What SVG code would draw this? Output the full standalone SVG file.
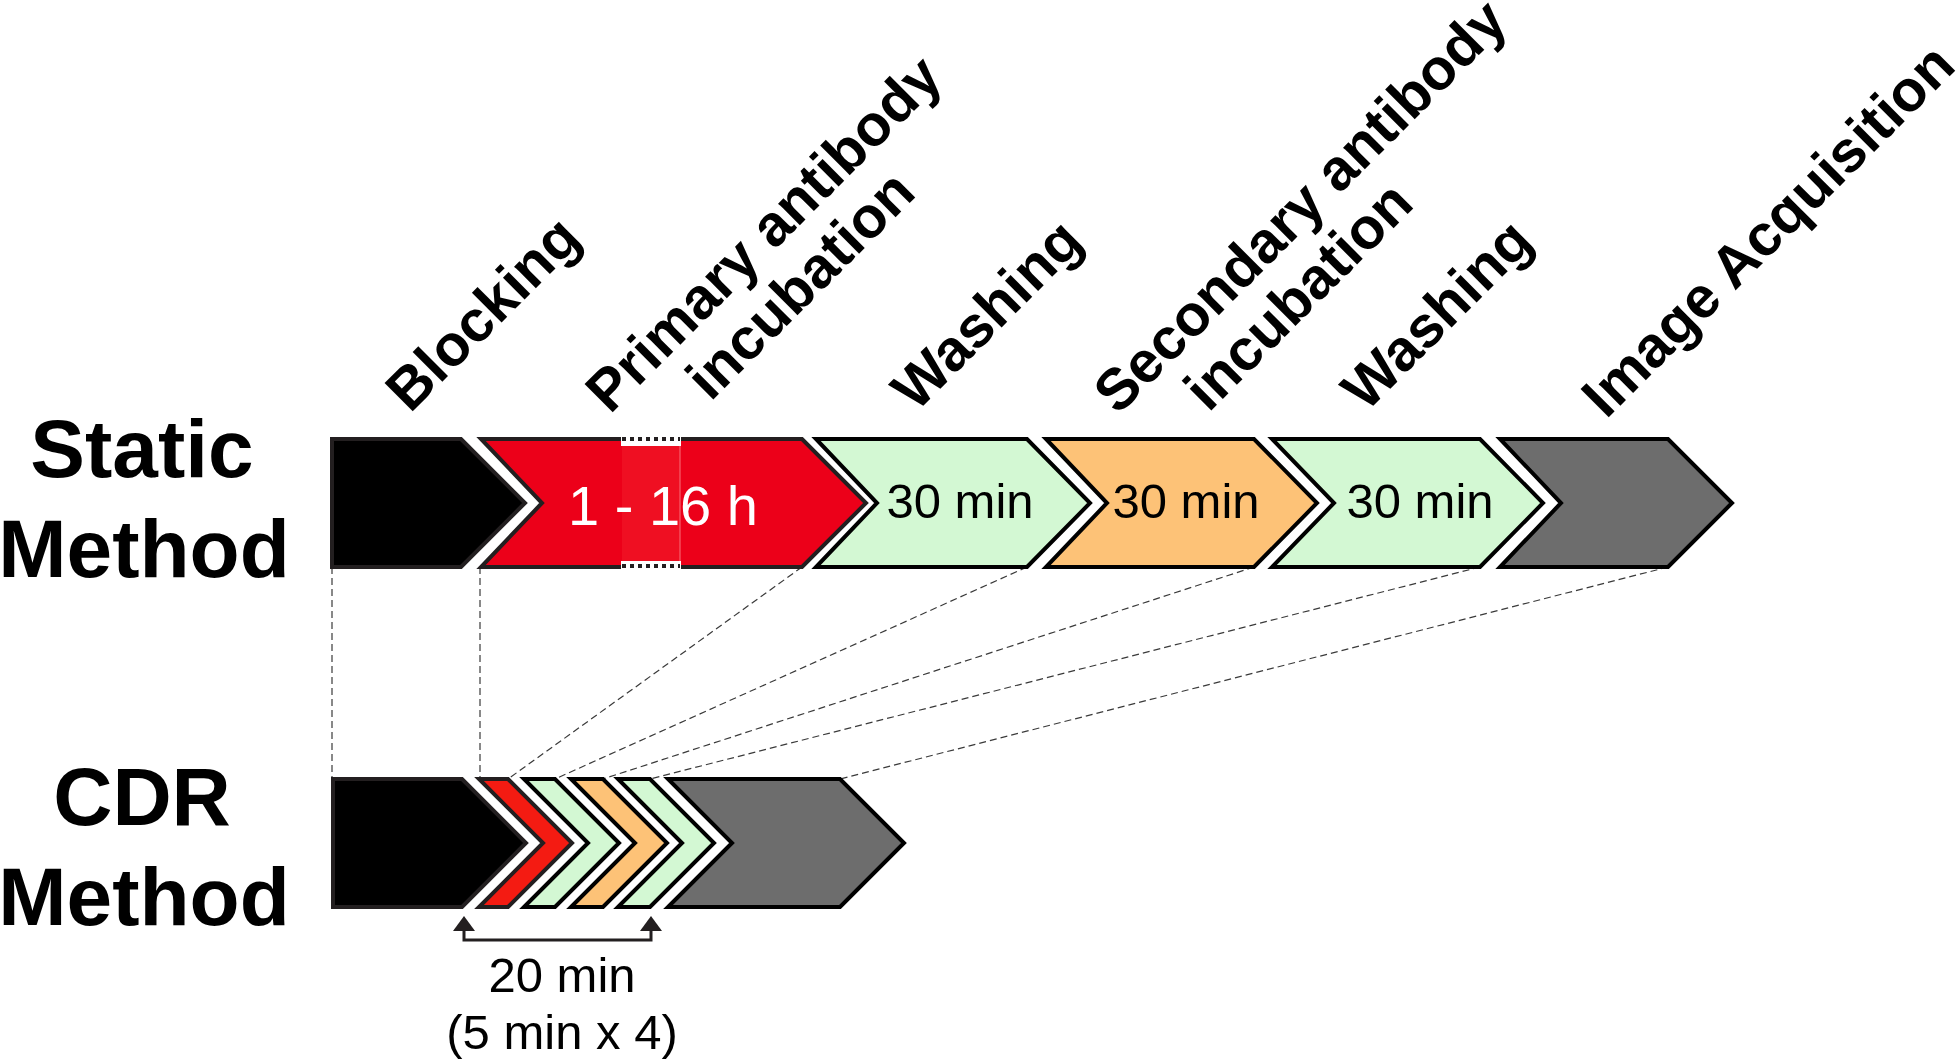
<svg xmlns="http://www.w3.org/2000/svg" width="1959" height="1061" viewBox="0 0 1959 1061">
<style>
.lbl{font-family:"Liberation Sans",Arial,sans-serif;font-weight:bold;font-size:58px;fill:#000}
.side{font-family:"Liberation Sans",Arial,sans-serif;font-weight:bold;font-size:82px;fill:#000;text-anchor:middle}
.dur{font-family:"Liberation Sans",Arial,sans-serif;font-size:49px;fill:#000;text-anchor:middle}
.blk{fill:#000;stroke:#231f20;stroke-width:4;stroke-linejoin:miter}
.red{fill:#ec0019;stroke:#231f20;stroke-width:4}
.red2{fill:#f41b12;stroke:#231f20;stroke-width:4}
.grn{fill:#d3f8d3;stroke:#000;stroke-width:4}
.org{fill:#fdc277;stroke:#000;stroke-width:4}
.gry{fill:#6d6d6d;stroke:#000;stroke-width:4}
.dash{stroke:#3a3a3a;stroke-width:1.2;stroke-dasharray:7 4;fill:none}
</style>
<rect width="1959" height="1061" fill="#fff"/>

<g id="labels-side">
<text class="side" x="142" y="477">Static</text>
<text class="side" x="144" y="577">Method</text>
<text class="side" x="142" y="825">CDR</text>
<text class="side" x="144" y="925">Method</text>
</g>

<g id="labels-steps">
<text id="lbl-blocking" class="lbl" transform="translate(410,414) rotate(-45)">Blocking</text>
<text id="lbl-primary" class="lbl" transform="translate(610,415) rotate(-45)"><tspan x="0" y="0">Primary antibody</tspan><tspan x="80" y="62">incubation</tspan></text>
<text id="lbl-wash1" class="lbl" transform="translate(916,413) rotate(-45)">Washing</text>
<text id="lbl-secondary" class="lbl" transform="translate(1118,416) rotate(-45)"><tspan x="0" y="0">Secondary antibody</tspan><tspan x="66" y="62">incubation</tspan></text>
<text id="lbl-wash2" class="lbl" transform="translate(1366,413) rotate(-45)">Washing</text>
<text id="lbl-image" class="lbl" transform="translate(1606,420) rotate(-45)">Image Acquisition</text>
</g>

<g id="connectors">
<line class="dash" x1="332" y1="567" x2="332" y2="779"/>
<line class="dash" x1="480" y1="567" x2="480" y2="779"/>
<line class="dash" x1="802" y1="567" x2="508" y2="779"/>
<line class="dash" x1="1027" y1="567" x2="555" y2="779"/>
<line class="dash" x1="1254" y1="567" x2="603" y2="779"/>
<line class="dash" x1="1480" y1="567" x2="650" y2="779"/>
<line class="dash" x1="1668" y1="567" x2="840" y2="779"/>
</g>

<g id="static-row">
<g id="s-blocking"><path class="blk" d="M332,439 L461,439 L525,503 L461,567 L332,567 Z"/></g>
<g id="s-primary">
<path class="red" d="M481,439 L802,439 L866,503 L802,567 L481,567 L542,503 Z"/>
<rect x="622" y="441" width="58" height="124" fill="#ef0f22"/>
<line x1="680" y1="441" x2="680" y2="565" stroke="#f7707a" stroke-width="1"/>
<rect x="621" y="436" width="60" height="10" fill="#fff"/>
<line x1="622" y1="439" x2="680" y2="439" stroke="#231f20" stroke-width="4" stroke-dasharray="4 4"/>
<rect x="621" y="561" width="60" height="10" fill="#fff"/>
<line x1="622" y1="566" x2="680" y2="566" stroke="#231f20" stroke-width="4" stroke-dasharray="4 4"/>
<text x="663" y="525" font-family="Liberation Sans, Arial, sans-serif" font-size="56" fill="#fff" text-anchor="middle">1 - 16 h</text>
</g>
<g id="s-wash1"><path class="grn" d="M816,439 L1027,439 L1090,503 L1027,567 L816,567 L877,503 Z"/><text class="dur" x="960" y="518">30 min</text></g>
<g id="s-secondary"><path class="org" d="M1046,439 L1254,439 L1317,503 L1254,567 L1046,567 L1107,503 Z"/><text class="dur" x="1186" y="518">30 min</text></g>
<g id="s-wash2"><path class="grn" d="M1272,439 L1480,439 L1543,503 L1480,567 L1272,567 L1334,503 Z"/><text class="dur" x="1420" y="518">30 min</text></g>
<g id="s-image"><path class="gry" d="M1500,439 L1668,439 L1732,503 L1668,567 L1500,567 L1561,503 Z"/></g>
</g>

<g id="cdr-row">
<g id="c-blocking"><path class="blk" d="M333,779 L462,779 L526,843 L462,907 L333,907 Z"/></g>
<g id="c-primary"><path class="red2" d="M479,779 L508,779 L572,843 L508,907 L479,907 L543,843 Z"/></g>
<g id="c-wash1"><path class="grn" d="M524,779 L555,779 L619,843 L555,907 L524,907 L588,843 Z"/></g>
<g id="c-secondary"><path class="org" d="M571,779 L603,779 L667,843 L603,907 L571,907 L635,843 Z"/></g>
<g id="c-wash2"><path class="grn" d="M618,779 L650,779 L714,843 L650,907 L618,907 L682,843 Z"/></g>
<g id="c-image"><path class="gry" d="M668,779 L840,779 L904,843 L840,907 L668,907 L732,843 Z"/></g>
</g>

<g id="bracket">
<path d="M464,928 L464,940 L651,940 L651,928" fill="none" stroke="#231f20" stroke-width="3"/>
<polygon points="464,916 453,931 475,931" fill="#231f20"/>
<polygon points="651,916 640,931 662,931" fill="#231f20"/>
<text x="562" y="992" font-family="Liberation Sans, Arial, sans-serif" font-size="49" fill="#000" text-anchor="middle">20 min</text>
<text x="562" y="1049" font-family="Liberation Sans, Arial, sans-serif" font-size="49" fill="#000" text-anchor="middle">(5 min x 4)</text>
</g>
</svg>
